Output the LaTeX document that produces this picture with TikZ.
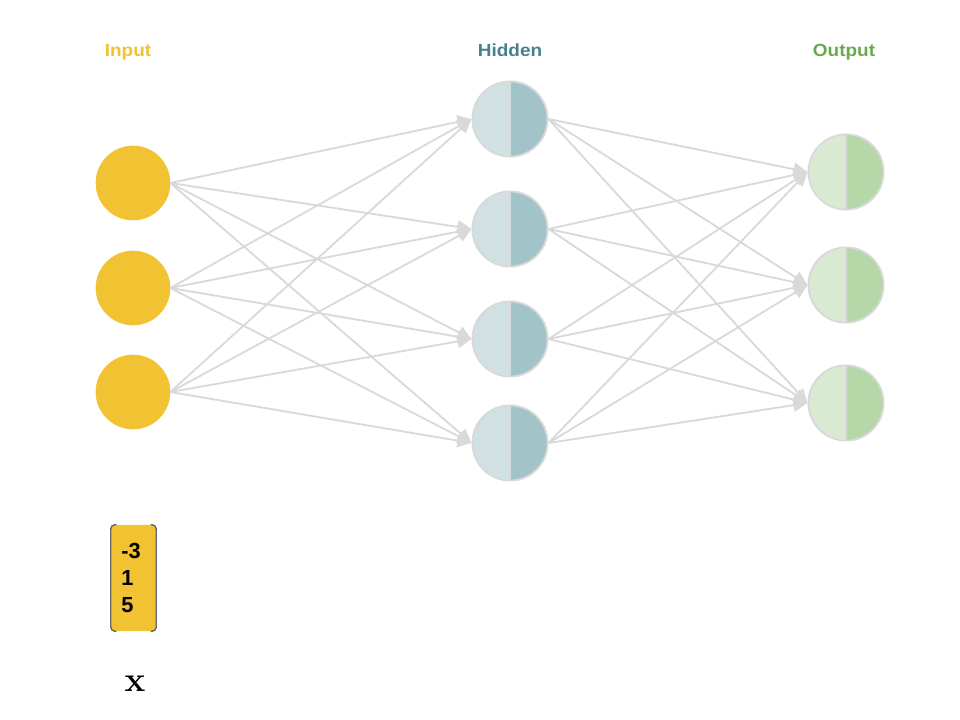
\documentclass[tikz,border=0pt]{standalone}
\usepackage[no-math]{fontspec}
\setmainfont{Liberation Sans}
\usetikzlibrary{arrows.meta}
\definecolor{inyellow}{HTML}{F1C232}
\definecolor{hidteal}{HTML}{45818E}
\definecolor{outgreen}{HTML}{6AA84F}
\definecolor{hidleft}{HTML}{D0E0E3}
\definecolor{hidright}{HTML}{A2C4C9}
\definecolor{outleft}{HTML}{D9EAD3}
\definecolor{outright}{HTML}{B6D7A8}
\definecolor{edgegray}{HTML}{D9D9D9}
\tikzset{
	layerlabel/.style={anchor=base,xscale=1.08,font=\bfseries\fontsize{12.5}{14}\selectfont},
	inneuron/.style={circle,fill=inyellow,draw=inyellow,minimum size=1.85cm,inner sep=0pt},
	halfneuron/.style 2 args={circle,draw=edgegray,line width=1.3pt,minimum size=1.88cm,inner sep=0pt,fill=#1,
		path picture={
			\fill[#2] (path picture bounding box.north) rectangle (path picture bounding box.south east);
			\draw[edgegray,line width=1.3pt] (path picture bounding box.north) -- (path picture bounding box.south);
		}},
	link/.style={edgegray,line width=1.3pt,-{Triangle[length=3.5mm,width=3.3mm]}},
	entry/.style={anchor=west,inner sep=0pt,font=\bfseries\fontsize{15.5}{17}\selectfont}
}
\begin{document}
\begin{tikzpicture}[x=0.025cm,y=-0.025cm]
	\useasboundingbox (0,0) rectangle (960,720);
	% layer titles
	\node[layerlabel,text=inyellow] (tin) at (128,57) {Input};
	\node[layerlabel,text=hidteal] (thid) at (510,57) {Hidden};
	\node[layerlabel,text=outgreen] (tout) at (844,57) {Output};
	% neurons
	\foreach \n/\y in {1/183,2/288,3/392}
		\node[inneuron] (i\n) at (133,\y) {};
	\foreach \n/\y in {1/119,2/229,3/339,4/443}
		\node[halfneuron={hidleft}{hidright}] (h\n) at (510,\y) {};
	\foreach \n/\y in {1/172,2/285,3/403}
		\node[halfneuron={outleft}{outright}] (o\n) at (846,\y) {};
	% connections
	\foreach \a in {1,2,3}
		\foreach \b in {1,2,3,4}
			\draw[link] (i\a.east) -- (h\b.west);
	\foreach \a in {1,2,3,4}
		\foreach \b in {1,2,3}
			\draw[link] (h\a.east) -- (o\b.west);
	% input vector
	\node[fill=inyellow,rounded corners=2pt,minimum width=45*0.025cm,minimum height=106*0.025cm] (vec) at (133.5,578) {};
	\draw[black!60,line width=1pt,rounded corners=3pt] ([xshift=4pt]vec.north west) -- (vec.north west) -- (vec.south west) -- ([xshift=4pt]vec.south west);
	\draw[black!60,line width=1pt,rounded corners=3pt] ([xshift=-4pt]vec.north east) -- (vec.north east) -- (vec.south east) -- ([xshift=-4pt]vec.south east);
	\node[entry] (v1) at (121,551) {-3};
	\node[entry] (v2) at (121,578) {1};
	\node[entry] (v3) at (121,605) {5};
	\node[font=\fontsize{34}{36}\selectfont] (xlab) at (135,684) {$\mathbf{x}$};
\end{tikzpicture}
\end{document}
